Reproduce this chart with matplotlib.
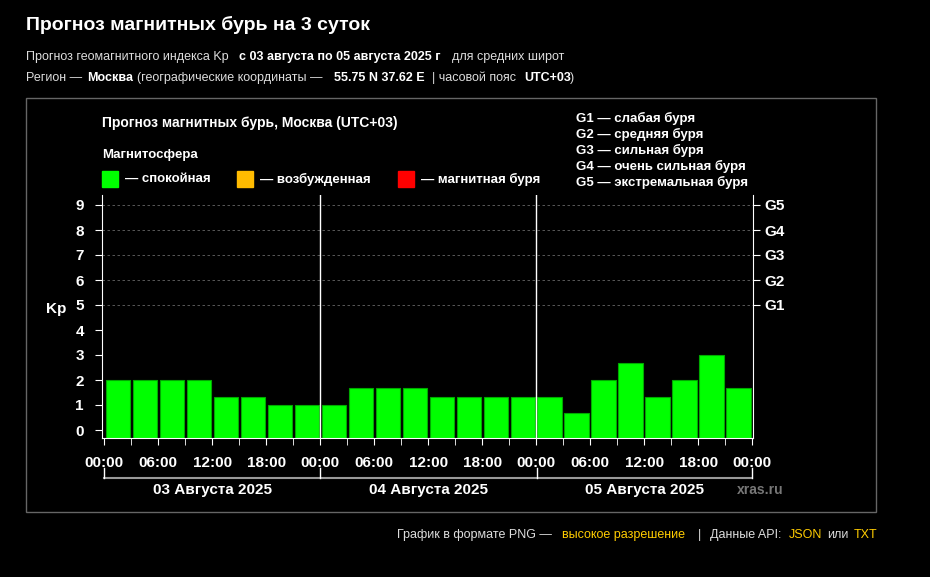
import numpy as np
import matplotlib.pyplot as plt
from matplotlib.patches import Rectangle

plt.rcParams['font.family'] = ['Liberation Sans', 'DejaVu Sans']

# Kp forecast, 3-hour intervals, 03-05 Aug 2025
kp = [2, 2, 2, 2, 1.33, 1.33, 1, 1,
      1, 1.67, 1.67, 1.67, 1.33, 1.33, 1.33, 1.33,
      1.33, 0.67, 2, 2.67, 1.33, 2, 3, 1.67]
days = ['03 Августа 2025', '04 Августа 2025', '05 Августа 2025']
hour_labels = ['00:00', '06:00', '12:00', '18:00']
g_levels = ['G1', 'G2', 'G3', 'G4', 'G5']
g_names = ['G1 — слабая буря', 'G2 — средняя буря', 'G3 — сильная буря',
           'G4 — очень сильная буря', 'G5 — экстремальная буря']

fig = plt.figure(figsize=(9.3, 5.77), dpi=100, facecolor='black')
W, H = 930, 577
def fx(px): return px / W
def fy(py): return 1 - py / H

fig.text(fx(26), fy(25), 'Прогноз магнитных бурь на 3 суток', color='white',
         fontsize=14, fontweight='bold', va='center')
fig.text(fx(26), fy(57), 'Прогноз геомагнитного индекса Kp ', color='#dddddd', fontsize=9, va='center')
fig.text(fx(239), fy(57), 'с 03 августа по 05 августа 2025 г', color='white', fontsize=9,
         fontweight='bold', va='center')
fig.text(fx(452), fy(57), 'для средних широт', color='#dddddd', fontsize=9, va='center')
fig.text(fx(26), fy(78), 'Регион — ', color='#dddddd', fontsize=9, va='center')
fig.text(fx(87), fy(78), 'Москва', color='white', fontsize=9, fontweight='bold', va='center')
fig.text(fx(137), fy(78), '(географические координаты — ', color='#dddddd', fontsize=9, va='center')
fig.text(fx(334), fy(78), '55.75 N 37.62 E', color='white', fontsize=9, fontweight='bold', va='center')
fig.text(fx(432), fy(78), '| часовой пояс ', color='#dddddd', fontsize=9, va='center')
fig.text(fx(524), fy(78), 'UTC+03', color='white', fontsize=9, fontweight='bold', va='center')
fig.text(fx(570), fy(78), ')', color='#dddddd', fontsize=9, va='center')

fig.patches.append(Rectangle((fx(26), fy(512)), fx(876 - 26), fy(98) - fy(512),
                             transform=fig.transFigure, fill=False, edgecolor='#666666', lw=1))

fig.text(fx(102), fy(123), 'Прогноз магнитных бурь, Москва (UTC+03)', color='white',
         fontsize=10, fontweight='bold', va='center')
fig.text(fx(102), fy(155), 'Магнитосфера', color='white', fontsize=9.5, fontweight='bold', va='center')
for x0, col, lab in [(102, '#00ff00', '— спокойная'), (237, '#ffbb00', '— возбужденная'),
                     (398, '#ff0000', '— магнитная буря')]:
    fig.patches.append(Rectangle((fx(x0), fy(187)), fx(16), fy(171) - fy(187),
                                 transform=fig.transFigure, color=col))
    fig.text(fx(x0 + 23), fy(179), lab, color='white', fontsize=9.5, fontweight='bold', va='center')
for i, s in enumerate(g_names):
    fig.text(fx(576), fy(118 + 16.2 * i), s, color='white', fontsize=9.5, fontweight='bold', va='center')

ax = fig.add_axes([fx(102), fy(438), fx(753 - 102), fy(195) - fy(438)])
ax.set_facecolor('black')
x = np.arange(len(kp)) * 3 + 1.5
ax.bar(x, np.array(kp) + 0.32, bottom=-0.32, width=2.7, color='#00ff00', edgecolor='#00aa00', lw=0.8)
ax.set_xlim(-0.25, 72.1)
ax.set_ylim(-0.32, 9.4)
for y in range(5, 10):
    ax.axhline(y, color='#666666', lw=0.6, ls=(0, (3, 3)))
ax.axvline(24, color='white', lw=1)
ax.axvline(48, color='white', lw=1)
for s in ['top', 'right']:
    ax.spines[s].set_visible(False)
for s in ['left', 'bottom']:
    ax.spines[s].set_color('white')
ax.set_yticks(range(10))
ax.set_yticklabels([str(i) for i in range(10)], color='white', fontsize=11, fontweight='bold')
ax.set_xticks(np.arange(0, 73, 3), minor=True)
ax.set_xticks(np.arange(0, 73, 6))
ax.set_xticklabels(hour_labels * 3 + ['00:00'], color='white', fontsize=11, fontweight='bold')
ax.tick_params(colors='white', which='both', length=5, pad=8)
ax.set_ylabel('Kp', color='white', fontsize=11, fontweight='bold', rotation=0, labelpad=14)
ax2 = ax.twinx()
ax2.set_ylim(ax.get_ylim())
ax2.set_yticks(range(5, 10))
ax2.set_yticklabels(g_levels, color='white', fontsize=11, fontweight='bold')
ax2.tick_params(colors='white', length=5)
for s in ['top', 'left', 'bottom']:
    ax2.spines[s].set_visible(False)
ax2.spines['right'].set_color('white')

# day brackets
yb = fy(478)
fig.lines.append(plt.Line2D([fx(104), fx(752)], [yb, yb], transform=fig.transFigure, color='#999999', lw=1.5))
for px in [104, 320, 537, 752]:
    fig.lines.append(plt.Line2D([fx(px), fx(px)], [yb, fy(468)], transform=fig.transFigure, color='white', lw=1))
for i, d in enumerate(days):
    fig.text(fx(104 + 216 * i + 108), fy(490), d, color='white', fontsize=11, fontweight='bold',
             ha='center', va='center')
fig.text(fx(760), fy(490), 'xras.ru', color='#777777', fontsize=10, fontweight='bold', ha='center', va='center')

fig.text(fx(397), fy(535), 'График в формате PNG — ', color='#dddddd', fontsize=9, va='center')
fig.text(fx(562), fy(535), 'высокое разрешение', color='#ffcc00', fontsize=9, va='center')
fig.text(fx(698), fy(535), '|', color='#dddddd', fontsize=9, va='center')
fig.text(fx(710), fy(535), 'Данные API: ', color='#dddddd', fontsize=9, va='center')
fig.text(fx(789), fy(535), 'JSON', color='#ffcc00', fontsize=9, va='center')
fig.text(fx(827), fy(535), 'или', color='#dddddd', fontsize=9, va='center')
fig.text(fx(854), fy(535), 'TXT', color='#ffcc00', fontsize=9, va='center')

fig.savefig('out.png', dpi=100, facecolor='black')
